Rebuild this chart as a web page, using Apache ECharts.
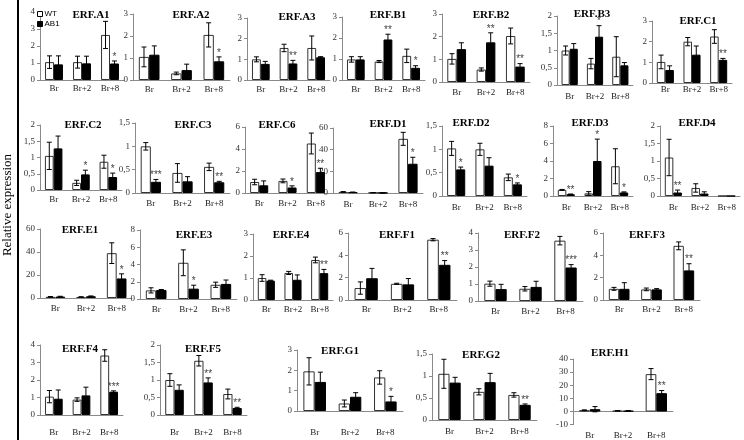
<!DOCTYPE html>
<html><head><meta charset="utf-8">
<script src="https://cdn.jsdelivr.net/npm/echarts@6/dist/echarts.min.js"></script>
<style>html,body{margin:0;padding:0;background:#fff}#c{width:744px;height:440px}</style>
</head><body><div id="c"></div><script>
const categories = ['Br', 'Br+2', 'Br+8'];
const seriesNames = ['WT', 'AB1'];
const genes = ['ERF.A1','ERF.A2','ERF.A3','ERF.B1','ERF.B2','ERF.B3','ERF.C1',
  'ERF.C2','ERF.C3','ERF.C6','ERF.D1','ERF.D2','ERF.D3','ERF.D4',
  'ERF.E1','ERF.E3','ERF.E4','ERF.F1','ERF.F2','ERF.F3',
  'ERF.F4','ERF.F5','ERF.G1','ERF.G2','ERF.H1'];
const wtMean = [[1.05,1.05,2.65],[1.05,0.3,2.05],[1.0,1.55,1.55],[0.98,0.88,1.15],[1.02,0.55,2.03],[1.0,0.62,0.82],[1.02,2.0,2.25],
  [1.05,0.22,0.87],[1.0,0.43,0.56],[1.0,1.1,4.5],[1.0,0.3,50],[1.02,1.0,0.4],[0.7,0.3,3.4],[1.1,0.23,0],
  [1.0,0.9,39],[1.0,4.2,1.65],[1.0,1.23,1.82],[1.07,1.45,5.4],[1.02,0.72,3.55],[1.0,0.95,4.85],
  [1.05,0.88,3.4],[1.0,1.55,0.6],[1.95,0.37,1.65],[1.05,0.64,0.57],[1.0,0.6,28.5]];
const wtErr = [[0.37,0.35,0.8],[0.45,0.06,0.55],[0.12,0.18,0.58],[0.13,0.05,0.32],[0.23,0.07,0.35],[0.13,0.15,0.58],[0.33,0.2,0.33],
  [0.42,0.08,0.2],[0.08,0.2,0.08],[0.25,0.17,0.95],[0.3,0.1,6],[0.15,0.13,0.07],[0.05,0.2,2.0],[0.52,0.12,0],
  [0.3,0.2,9],[0.3,1.5,0.3],[0.15,0.07,0.13],[0.55,0.05,0.1],[0.15,0.13,0.25],[0.13,0.12,0.35],
  [0.35,0.1,0.33],[0.18,0.15,0.14],[0.67,0.17,0.33],[0.33,0.07,0.05],[0.3,0.2,4.2]];
const ab1Mean = [[0.92,0.98,0.97],[1.15,0.45,0.85],[0.78,0.8,1.1],[0.98,1.93,0.58],[1.45,1.75,0.68],[1.05,1.4,0.57],[0.63,1.37,1.12],
  [1.28,0.48,0.4],[0.24,0.25,0.23],[0.7,0.5,1.9],[0.7,0.15,27],[0.57,0.65,0.25],[0.2,4.0,0.4],[0.1,0.07,0],
  [1.2,1.5,17],[1.05,1.2,1.75],[0.88,0.92,1.22],[1.95,1.4,3.15],[0.7,0.83,1.97],[1.0,0.95,2.65],
  [0.93,1.12,1.33],[0.72,0.93,0.2],[1.43,0.7,0.47],[0.85,0.86,0.345],[1.8,0.6,14]];
const ab1Err = [[0.5,0.42,0.15],[0.4,0.27,0.2],[0.12,0.15,0.03],[0.13,0.25,0.1],[0.28,0.42,0.13],[0.15,0.32,0.08],[0.2,0.42,0.07],
  [0.38,0.13,0.12],[0.05,0.1,0.02],[0.4,0.15,0.35],[0.2,0.1,6],[0.05,0.17,0.03],[0.03,2.5,0.07],[0.07,0.05,0],
  [0.3,0.3,4],[0.05,0.4,0.45],[0.02,0.22,0.17],[0.88,0.52,0.38],[0.28,0.33,0.17],[0.55,0.07,0.6],
  [0.5,0.47,0.05],[0.14,0.13,0.02],[0.48,0.2,0.25],[0.12,0.2,0.02],[2.0,0.2,2.0]];
const ab1Stars = [['','','*'],['','','*'],['','**',''],['','**','*'],['','**','**'],['','*',''],['','','**'],
  ['','*','*'],['***','','**'],['','*','**'],['','','*'],['*','','*'],['**','*','*'],['**','',''],
  ['','','*'],['','*',''],['','','**'],['','','**'],['','','***'],['','','**'],
  ['','','***'],['','**','**'],['','','*'],['','','**'],['','','**']];
const yMin = [0,0,0,0,0,0,0, 0,0,0,0,0,0,0, 0,0,0,0,0,0, 0,0,0,0,-10];
const yMax = [4,3,3,3,3,2,3, 2,1.5,6,60,1.5,8,2, 60,8,3,6,4,6, 4,2,3,1.5,40];
const yStep = [1,1,1,1,1,0.5,1, 0.5,0.5,2,20,0.5,2,0.5, 20,2,1,2,1,2, 1,0.5,1,0.5,10];
const yAxisTitle = 'Relative expression';

// layout: [axis left x, axis right x, y of max tick, y of min tick, x label centre y, title centre x, title centre y]
const layout = [
  [40,124,12,80,89,91,15],[133,230,14,80,90,191,15],[247,330,18,80,90,297,17],[342,425,17,80,90,388,15],
  [442,530,14,82,93,491,15],[557,633,16,85,97,592,14],[652,732,21,83,90,698,21],
  [40,122,125,190,200,83,125],[135,230,123,193,204,193,125],[245,330,127,193,204,277,125],[333,423,128,193,205,388,124],
  [442,527,126,196,208,471,123],[553,633,126,196,208,590,123],[660,740,126,196,208,697,123],
  [40,132,229,298,309,80,230],[140,237,230,299,310,194,235],[253,333,234,300,310,291,235],
  [348,457,233,300,310,397,235],[478,583,233,301,312,522,235],[603,700,233,300,310,647,235],
  [40,123,345,415,433,80,349],[160,247,345,415,433,203,349],[297,403,350,411,433,340,351],
  [432,537,354,420,432,481,355],[573,673,359,428,425,610,353]
];

const SERIF = '"Liberation Serif","Times New Roman",serif';
const GAP = 0.36;
const chart = echarts.init(document.getElementById('c'));
const grid = [], xAxis = [], yAxis = [], series = [], graphic = [];

function errSeries(i, means, errs, side, stars) {
  return {
    type: 'custom', xAxisIndex: i, yAxisIndex: i, silent: true, z: 5,
    data: means.map((m, k) => [k, m - errs[k], m + errs[k]]),
    renderItem: function (params, api) {
      const k = api.value(0);
      const lo = api.coord([k, api.value(1)]);
      const hi = api.coord([k, api.value(2)]);
      const band = api.size([1, 0])[0];
      const bw = band * (1 - GAP) / 2;
      const cx = lo[0] + side * bw / 2;
      const ch = [];
      const st = {stroke: '#000', lineWidth: 1};
      if (errs[params.dataIndex] > 0) {
        ch.push({type: 'line', shape: {x1: cx, y1: lo[1], x2: cx, y2: hi[1]}, style: st});
        ch.push({type: 'line', shape: {x1: cx - 2.5, y1: hi[1], x2: cx + 2.5, y2: hi[1]}, style: st});
        ch.push({type: 'line', shape: {x1: cx - 2.5, y1: lo[1], x2: cx + 2.5, y2: lo[1]}, style: st});
      }
      const s = stars ? stars[params.dataIndex] : '';
      if (s) {
        ch.push({type: 'text', x: cx, y: hi[1] + 1, style: {text: s, fill: '#444', font: '10px "Liberation Sans",Arial,sans-serif', textAlign: 'center', textVerticalAlign: 'bottom', align: 'center', verticalAlign: 'bottom'}});
      }
      return {type: 'group', children: ch};
    }
  };
}

genes.forEach((g, i) => {
  const [l, r, t, b, ly, tx, ty] = layout[i];
  grid.push({left: l, top: t, width: r - l, height: b - t});
  const axisY = b - (0 - yMin[i]) / (yMax[i] - yMin[i]) * (b - t);
  xAxis.push({
    type: 'category', gridIndex: i, data: categories,
    axisLine: {lineStyle: {color: '#8a8a8a'}},
    axisTick: {length: 3, lineStyle: {color: '#8a8a8a'}},
    axisLabel: {fontFamily: SERIF, fontSize: 9, color: '#222', margin: Math.max(2, ly - axisY - 4.5)}
  });
  yAxis.push({
    type: 'value', gridIndex: i, min: yMin[i], max: yMax[i], interval: yStep[i],
    splitLine: {show: false},
    axisLine: {show: true, lineStyle: {color: '#8a8a8a'}},
    axisTick: {show: true, length: 3, lineStyle: {color: '#8a8a8a'}},
    axisLabel: {fontFamily: SERIF, fontSize: 9, color: '#333', margin: 5,
      formatter: v => String(v).replace('.', ',')}
  });
  series.push({type: 'bar', name: seriesNames[0], xAxisIndex: i, yAxisIndex: i, data: wtMean[i],
    barGap: '0%', barCategoryGap: (GAP * 100) + '%', silent: true,
    itemStyle: {color: '#fff', borderColor: '#333', borderWidth: 1}});
  series.push({type: 'bar', name: seriesNames[1], xAxisIndex: i, yAxisIndex: i, data: ab1Mean[i],
    barGap: '0%', barCategoryGap: (GAP * 100) + '%', silent: true,
    itemStyle: {color: '#000', borderColor: '#000', borderWidth: 1}});
  series.push(errSeries(i, wtMean[i], wtErr[i], -1, null));
  series.push(errSeries(i, ab1Mean[i], ab1Err[i], 1, ab1Stars[i]));
  graphic.push({type: 'text', x: tx, y: ty, silent: true,
    style: {text: g, font: 'bold 11px ' + SERIF, fill: '#000', textAlign: 'center', textVerticalAlign: 'middle', align: 'center', verticalAlign: 'middle'}});
});

graphic.push({type: 'rect', shape: {x: 17, y: 0, width: 2, height: 440}, style: {fill: '#000'}, silent: true});
graphic.push({type: 'text', x: 7.5, y: 205, rotation: Math.PI / 2, silent: true,
  style: {text: yAxisTitle, font: '13px ' + SERIF, fill: '#000', textAlign: 'center', textVerticalAlign: 'middle', align: 'center', verticalAlign: 'middle'}});

chart.setOption({
  animation: false,
  grid, xAxis, yAxis, series, graphic,
  legend: {
    orient: 'vertical', left: 37, top: 10, itemWidth: 5, itemHeight: 5, itemGap: 2,
    selectedMode: false, padding: 0,
    textStyle: {fontFamily: '"Liberation Sans",Arial,sans-serif', fontSize: 8, color: '#000', padding: [0, 0, 0, -3]},
    data: [
      {name: 'WT', icon: 'rect', itemStyle: {color: '#fff', borderColor: '#000', borderWidth: 1}},
      {name: 'AB1', icon: 'rect', itemStyle: {color: '#000', borderColor: '#000', borderWidth: 1}}
    ]
  }
});
</script></body></html>
